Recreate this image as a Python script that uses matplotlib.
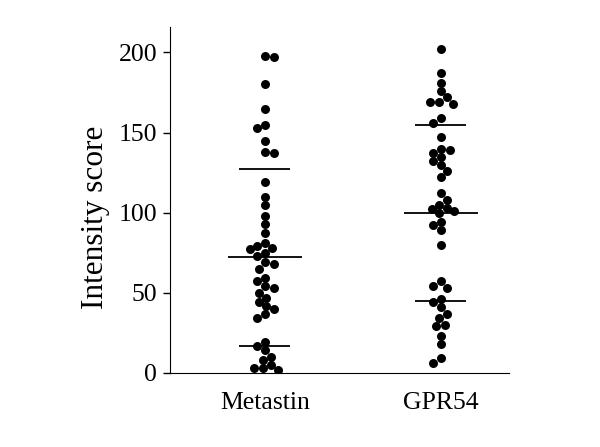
import math
import matplotlib
matplotlib.use('Agg')
import matplotlib.pyplot as plt

groups = ['Metastin', 'GPR54']

metastin = [198, 197, 180, 165, 155, 153, 145, 138, 137, 119, 110, 105,
            98, 93, 87, 81, 79, 78, 77, 75, 73, 69, 68, 65, 59, 57, 54,
            53, 50, 47, 44, 42, 40, 37, 34, 19, 17, 14, 10, 8, 5, 3, 3, 2]
gpr54 = [202, 187, 181, 176, 172, 169, 169, 168, 159, 156, 147, 140, 139,
         137, 135, 132, 130, 126, 122, 112, 108, 105, 103, 102, 101, 100,
         94, 92, 89, 80, 57, 54, 53, 46, 44, 41, 37, 34, 30, 29, 23, 18,
         9, 6]

# horizontal bars (mean and spread)
mean_vals = [72, 100]
upper_vals = [127, 155]
lower_vals = [17, 45]

yticks = [0, 50, 100, 150, 200]


def swarm(values, px_x, px_y, mind=8.0, step=1.5):
    # simple beeswarm in pixel space, dots allowed to overlap a bit
    placed = []
    offs = []
    for v in values:
        y = v * px_y
        k = 0
        while True:
            cands = [0.0] if k == 0 else [k * step, -k * step]
            if k % 2:
                cands = cands[::-1]
            hit = None
            for c in cands:
                if all(math.hypot(c - px, y - py) >= mind for px, py in placed):
                    hit = c
                    break
            if hit is not None:
                break
            k += 1
        placed.append((hit, y))
        offs.append(hit / px_x)
    return offs


def main():
    fig = plt.figure(figsize=(6, 4.47), dpi=100)
    ax = fig.add_axes([0.283, 0.166, 0.565, 0.774])
    ax.set_xlim(-0.54, 1.386)
    ax.set_ylim(0, 216)

    p0, p1 = ax.transData.transform([(0, 0), (1, 1)])
    px_x, px_y = p1 - p0

    for i, vals in enumerate([metastin, gpr54]):
        offs = swarm(vals, px_x, px_y)
        ax.scatter([i + o for o in offs], vals, s=42, color='black',
                   linewidths=0, zorder=3)
        ax.hlines(mean_vals[i], i - 0.21, i + 0.21, color='black', lw=1.3)
        ax.hlines(upper_vals[i], i - 0.145, i + 0.145, color='black', lw=1.3)
        ax.hlines(lower_vals[i], i - 0.145, i + 0.145, color='black', lw=1.3)

    ax.set_xticks(range(len(groups)))
    ax.set_xticklabels(groups)
    ax.set_yticks(yticks)
    ax.set_ylabel('Intensity score', fontsize=22.5, family='Liberation Serif')
    ax.yaxis.set_label_coords(-0.175, 0.45)
    ax.spines['top'].set_visible(False)
    ax.spines['right'].set_visible(False)
    ax.tick_params(axis='x', length=0, pad=14)
    ax.tick_params(axis='y', length=5, width=1, pad=4)
    for lab in ax.get_xticklabels() + ax.get_yticklabels():
        lab.set_family('Liberation Serif')
        lab.set_fontsize(18.5)

    fig.savefig('out.png', dpi=100)


if __name__ == '__main__':
    main()
